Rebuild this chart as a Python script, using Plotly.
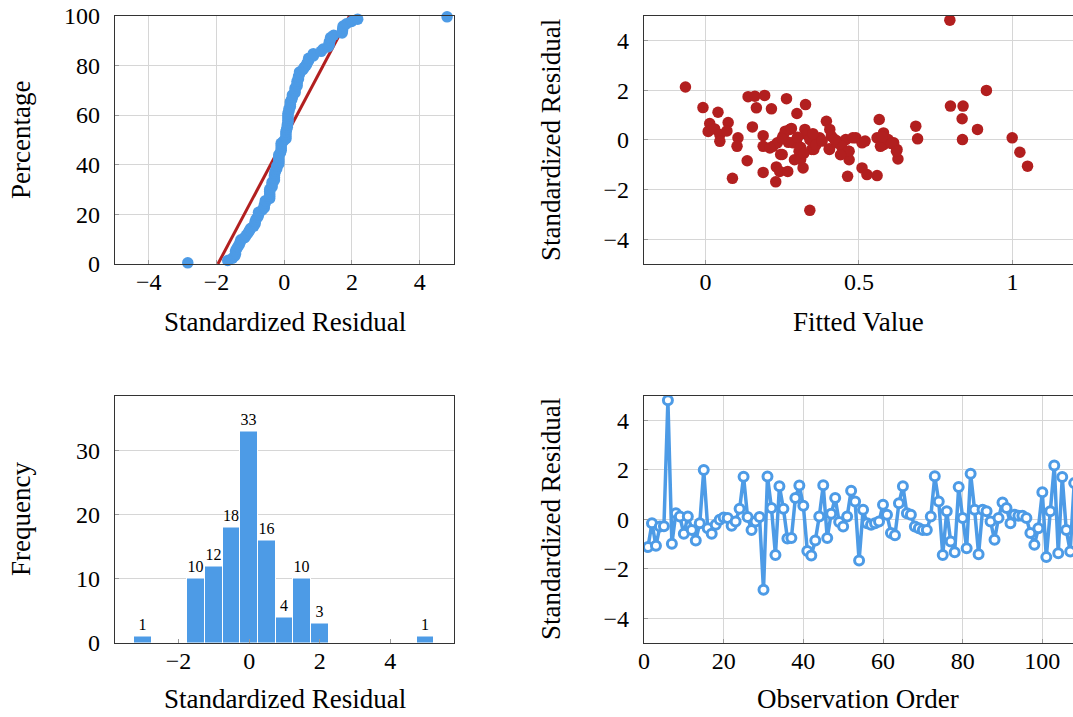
import plotly.graph_objects as go

# ---------------- data ----------------
residuals = [
    -1.12, -0.16, -1.07, -0.29, -0.28, 4.81, -0.99, 0.24, 0.11, -0.59,
    0.11, -0.43, -0.86, -0.16, 1.99, -0.36, -0.59, -0.22, -0.02, 0.07,
    0.05, -0.26, -0.09, 0.42, 1.72, 0.09, -0.43, -0.09, 0.09, -2.85,
    1.73, 0.45, -1.44, 1.33, 0.42, -0.78, -0.76, 0.86, 1.36, 0.55,
    -1.28, -1.46, -0.86, 0.11, 1.37, -0.76, 0.22, 0.86, -0.11, -0.29,
    0.11, 1.15, 0.72, -1.67, 0.38, -0.16, -0.22, -0.16, -0.09, 0.59,
    0.18, -0.56, -0.65, 0.65, 1.33, 0.24, 0.18, -0.29, -0.36, -0.43,
    -0.43, 0.11, 1.74, 0.72, -1.44, 0.32, -0.90, -1.33, 1.30, 0.05,
    -1.17, 1.84, 0.38, -1.41, 0.38, 0.32, -0.09, -0.83, 0.05, 0.68,
    0.45, -0.16, 0.18, 0.14, 0.14, 0.05, -0.56, -1.03, -0.36, 1.09,
    -1.53, 0.32, 2.17, -1.37, 1.71, -0.43, -1.30, 1.46,
]
observation_order = list(range(1, len(residuals) + 1))

fitted_values = [
    -0.065, -0.008, 0.041, 0.074, 0.014, 0.009, 0.030, 0.047, 0.047, 0.070,
    0.106, 0.103, 0.088, 0.136, 0.153, 0.139, 0.161, 0.193, 0.166, 0.215,
    0.264, 0.188, 0.188, 0.188, 0.231, 0.229, 0.242, 0.268, 0.220, 0.234,
    0.253, 0.275, 0.298, 0.245, 0.297, 0.326, 0.324, 0.330, 0.368, 0.346,
    0.318, 0.290, 0.394, 0.405, 0.410, 0.404, 0.430, 0.457, 0.468, 0.468,
    0.463, 0.490, 0.510, 0.510, 0.526, 0.559, 0.566, 0.559, 0.580, 0.590,
    0.580, 0.613, 0.624, 0.627, 0.685, 0.691, 0.796, 0.798, 0.839, 0.836,
    0.837, 0.886, 0.915, 0.999, 1.024, 1.049, 0.340, 0.250, 0.260, 0.280,
    0.286, 0.305, 0.310, 0.340, 0.353, 0.372, 0.403, 0.427, 0.443, 0.480,
    0.465, 0.570, 0.595, 0.606, 0.622, 0.310, 0.320, 0.360, 0.270, 0.210,
    0.380, 0.420, 0.300, 0.350, 0.440, 0.520, 0.250, 0.575,
]
fitted_residuals = [
    2.13, 1.30, 1.11, 0.70, 0.66, 0.34, 0.44, 0.22, -0.06, 0.36,
    0.08, -0.26, -1.55, -0.84, 0.52, 1.74, 1.76, 1.79, 1.29, 1.25,
    1.66, 0.17, -0.26, -1.31, -1.09, -1.69, -1.27, -1.27, -0.26, -0.12,
    0.15, 0.42, 1.06, -0.59, 0.01, 1.42, 0.42, 0.22, 0.01, -0.39,
    -1.13, -0.80, 0.75, 0.42, 0.15, -0.39, -0.06, 0.01, -0.46, -0.80,
    -1.47, 0.08, -0.12, -1.13, -1.40, -1.44, 0.82, 0.08, 0.28, -0.06,
    -0.19, -0.12, -0.39, -0.77, 0.55, 0.04, 4.82, 1.36, 1.36, 0.85,
    0.01, 0.42, 1.99, 0.08, -0.50, -1.06, -2.84, -0.59, 0.35, 0.46,
    -0.12, -0.46, -0.79, 0.01, -0.39, 0.08, -0.36, -0.12, -0.26, 0.08,
    -0.46, -0.26, 0.01, -0.15, -0.46, -0.30, -0.55, -0.20, -0.10, -0.33,
    -0.05, 0.02, 0.10, 0.25, -0.60, -0.05, 0.05, 0.12,
]

hist_centers = [-3.0, -1.5, -1.0, -0.5, 0.0, 0.5, 1.0, 1.5, 2.0, 5.0]
hist_counts = [1, 10, 12, 18, 33, 16, 4, 10, 3, 1]
hist_bin_width = 0.5

prob_line_x = [-1.96, 1.93]
prob_line_y = [0, 100]

# probability-plot positions from sorted residuals
n = len(residuals)
sorted_res = sorted(residuals)
percentages = [(k - 0.5) / n * 100 for k in range(1, n + 1)]

# ---------------- style ----------------
W, H = 1073, 717
BLUE = "#4d9be6"
RED = "#b21f1f"
GRID = "#d6d6d6"
FRAME = "#333333"
FONT = "Liberation Serif"
TICK_SIZE = 24
TITLE_SIZE = 27


def px_x(p):
    return p / W


def px_y(p):
    return 1 - p / H


def axis(domain, rng, tickvals, showgrid=True, mirror=True, standoff=4):
    return dict(
        domain=domain, range=rng, tickvals=tickvals,
        showgrid=showgrid, gridcolor=GRID, gridwidth=1,
        zeroline=False, showline=True, linecolor=FRAME, linewidth=1.3,
        mirror=mirror, ticks="inside", ticklen=4, tickcolor="#9a9a9a", tickwidth=1,
        automargin=False, ticklabeloverflow="allow",
        tickfont=dict(family=FONT, size=TICK_SIZE, color="black"),
        ticklabelstandoff=standoff, fixedrange=True,
    )


fig = go.Figure()

# top-left: normal probability plot
fig.add_trace(go.Scatter(x=prob_line_x, y=prob_line_y, mode="lines",
                         line=dict(color=RED, width=3), xaxis="x", yaxis="y",
                         showlegend=False, cliponaxis=True))
fig.add_trace(go.Scatter(x=sorted_res, y=percentages, mode="markers",
                         marker=dict(color=BLUE, size=11.5), xaxis="x", yaxis="y",
                         showlegend=False, cliponaxis=False))

# top-right: residuals vs fitted
fig.add_trace(go.Scatter(x=fitted_values, y=fitted_residuals, mode="markers",
                         marker=dict(color=RED, size=11.5), xaxis="x2", yaxis="y2",
                         showlegend=False))

# bottom-left: histogram
fig.add_trace(go.Bar(x=hist_centers, y=hist_counts, width=hist_bin_width,
                     marker=dict(color=BLUE, line=dict(color="white", width=1)),
                     text=[str(c) for c in hist_counts], textposition="outside",
                     textfont=dict(family=FONT, size=16, color="black"),
                     cliponaxis=False, xaxis="x3", yaxis="y3", showlegend=False))

# bottom-right: residuals vs order
fig.add_trace(go.Scatter(x=observation_order, y=residuals, mode="lines+markers",
                         line=dict(color=BLUE, width=3.5),
                         marker=dict(symbol="circle", size=9, color="white",
                                     line=dict(color=BLUE, width=3)),
                         xaxis="x4", yaxis="y4", showlegend=False))

left_x = [px_x(115), px_x(453.5)]
right_x = [px_x(644), 1.0]
top_y = [px_y(264), px_y(15.7)]
bot_y = [px_y(643), px_y(395.5)]

XS, YS = -4, 9

layout = dict(
    width=W, height=H, margin=dict(l=0, r=0, t=0, b=0, autoexpand=False),
    paper_bgcolor="white", plot_bgcolor="white",
    font=dict(family=FONT, color="black"),
    bargap=0,
    xaxis=dict(axis(left_x, [-5, 5], [-4, -2, 0, 2, 4], standoff=XS), anchor="y"),
    yaxis=dict(axis(top_y, [0, 100], [0, 20, 40, 60, 80, 100], standoff=YS), anchor="x"),
    xaxis2=dict(axis(right_x, [-0.2, 1.197], [0, 0.5, 1], standoff=XS), anchor="y2",
                ticktext=["0", "0.5", "1"]),
    yaxis2=dict(axis(top_y, [-5, 5], [-4, -2, 0, 2, 4], mirror=False, standoff=YS), anchor="x2"),
    xaxis3=dict(axis(left_x, [-3.8, 5.79], [-2, 0, 2, 4], showgrid=False, standoff=XS), anchor="y3"),
    yaxis3=dict(axis(bot_y, [0, 38.6], [0, 10, 20, 30], standoff=YS), anchor="x3"),
    xaxis4=dict(axis(right_x, [0, 107.7], [0, 20, 40, 60, 80, 100], standoff=XS), anchor="y4"),
    yaxis4=dict(axis(bot_y, [-5, 5], [-4, -2, 0, 2, 4], mirror=False, standoff=YS), anchor="x4"),
)
fig.update_layout(**layout)


def title(text, x, y, angle=0):
    fig.add_annotation(text=text, x=px_x(x), y=px_y(y), xref="paper", yref="paper",
                       showarrow=False, textangle=angle, xanchor="center", yanchor="middle",
                       font=dict(family=FONT, size=TITLE_SIZE, color="black"))


title("Standardized Residual", 284.5, 322)
title("Percentage", 21, 140, -90)
title("Fitted Value", 858, 322)
title("Standardized Residual", 551, 140, -90)
title("Standardized Residual", 284.5, 699)
title("Frequency", 21, 519, -90)
title("Observation Order", 858, 699)
title("Standardized Residual", 551, 519, -90)

# remove the default page margin so the figure fills the window exactly
fig.write_html(
    "out.html",
    config={"displayModeBar": False},
    post_script="document.body.style.margin='0';document.body.style.overflow='hidden';",
)
